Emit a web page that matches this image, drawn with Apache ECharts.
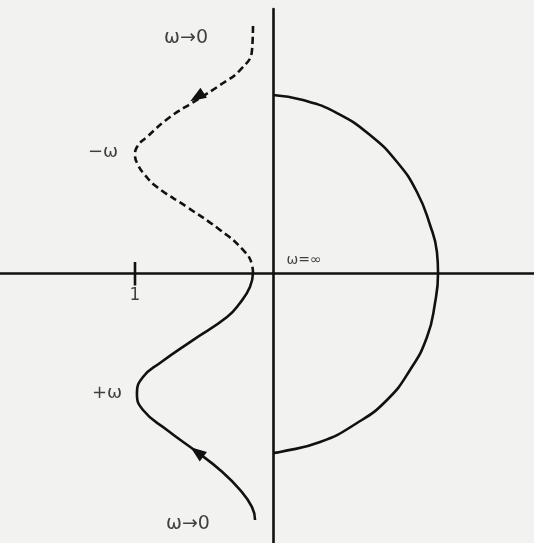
<!DOCTYPE html>
<html>
<head>
<meta charset="utf-8">
<script src="https://cdn.jsdelivr.net/npm/echarts@6/dist/echarts.min.js"></script>
<style>
html,body{margin:0;padding:0;background:#f2f2f0;}
#chart{width:534px;height:543px;}
</style>
</head>
<body>
<div id="chart"></div>
<script>
// Nyquist-type locus, Re / Im plane (units: the "1" tick is at Re = -1)
// Upper branch (−ω), from ω→0 at the top down to the real axis (dashed)
var upperBranch = [
  [-0.145, 1.790], [-0.152, 1.616], [-0.239, 1.471], [-0.384, 1.362],
  [-0.551, 1.254], [-0.746, 1.130], [-0.913, 0.986], [-0.986, 0.913],
  [-1.000, 0.855], [-0.978, 0.783], [-0.928, 0.710], [-0.841, 0.623],
  [-0.623, 0.478], [-0.384, 0.312], [-0.217, 0.167], [-0.152, 0.058],
  [-0.145, 0.000]
];
// Lower branch (+ω), from the real axis down to ω→0 at the bottom (solid)
var lowerBranch = [
  [-0.145, 0.000], [-0.167, -0.101], [-0.239, -0.217], [-0.333, -0.319],
  [-0.580, -0.486], [-0.819, -0.652], [-0.942, -0.754], [-0.986, -0.870],
  [-0.942, -0.993], [-0.768, -1.138], [-0.551, -1.297], [-0.384, -1.428],
  [-0.239, -1.572], [-0.152, -1.696], [-0.130, -1.790]
];
// Semicircle in the right half plane (ω = ∞ at the origin)
var semicircle = [
  [0.000, 1.290], [0.217, 1.254], [0.464, 1.159], [0.703, 1.000],
  [0.899, 0.804], [1.043, 0.587], [1.138, 0.348], [1.188, 0.152],
  [1.196, 0.000], [1.174, -0.217], [1.116, -0.464], [0.993, -0.703],
  [0.826, -0.920], [0.609, -1.087], [0.341, -1.225], [0.051, -1.297],
  [0.000, -1.304]
];
// Direction arrows on the two branches
var arrowPoints = [[-0.551, 1.275], [-0.551, -1.297]];
// Tick mark at Re = -1
var tickLabels = ['1'];
var tickMark = [[-1, 0.08], [-1, -0.09]];
var tickLabelPos = [[-1, -0.165]];
// Annotations
var annoText = ['ω→0', '−ω', 'ω=∞', '+ω', 'ω→0'];
var annoPos = [[-0.630, 1.703], [-1.232, 0.877], [0.225, 0.094], [-1.203, -0.870], [-0.616, -1.819]];
var annoSize = [19, 18, 14, 18, 19];

function dirAngle(a, b) {
  return Math.atan2(b[1] - a[1], b[0] - a[0]) * 180 / Math.PI - 90;
}
var arrowRot = [
  dirAngle(upperBranch[3], upperBranch[5]),
  dirAngle(lowerBranch[11], lowerBranch[9])
];

var ink = '#111111';
var font = 'DejaVu Sans';
var chart = echarts.init(document.getElementById('chart'), null, {renderer: 'canvas'});
chart.setOption({
  backgroundColor: '#f2f2f0',
  animation: false,
  grid: {left: 0, right: 0, top: 9, bottom: 0, containLabel: false, outerBoundsMode: 'none'},
  xAxis: {
    type: 'value', min: -273 / 138, max: 261 / 138,
    splitLine: {show: false},
    axisLine: {onZero: true, lineStyle: {color: ink, width: 2.6}},
    axisTick: {show: false},
    axisLabel: {show: false}
  },
  yAxis: {
    type: 'value', min: -270 / 138, max: 264 / 138,
    splitLine: {show: false},
    axisLine: {onZero: true, lineStyle: {color: ink, width: 2.6}},
    axisTick: {show: false},
    axisLabel: {show: false}
  },
  series: [
    {type: 'line', data: upperBranch, smooth: 0.5, symbol: 'none',
      lineStyle: {color: ink, width: 2.6, type: [7, 4]}},
    {type: 'line', data: lowerBranch, smooth: 0.5, symbol: 'none',
      lineStyle: {color: ink, width: 2.6}},
    {type: 'line', data: semicircle, smooth: 0.5, symbol: 'none',
      lineStyle: {color: ink, width: 2.6}},
    {type: 'line', data: tickMark, symbol: 'none',
      lineStyle: {color: ink, width: 2.6}},
    {type: 'scatter', symbolSize: 0,
      data: tickLabelPos.map(function (p, i) {
        return {value: p, label: {show: true, position: 'inside', formatter: tickLabels[i],
          fontSize: 17, color: ink, fontFamily: font}};
      })},
    {type: 'scatter', symbol: 'triangle', symbolSize: [12, 16],
      data: arrowPoints.map(function (p, i) { return {value: p, symbolRotate: arrowRot[i]}; }),
      itemStyle: {color: ink, opacity: 1}},
    {type: 'scatter', symbolSize: 0,
      data: annoPos.map(function (p, i) {
        return {value: p, label: {show: true, position: 'inside', formatter: annoText[i],
          fontSize: annoSize[i], color: ink, fontFamily: font}};
      })}
  ]
});
</script>
</body>
</html>
